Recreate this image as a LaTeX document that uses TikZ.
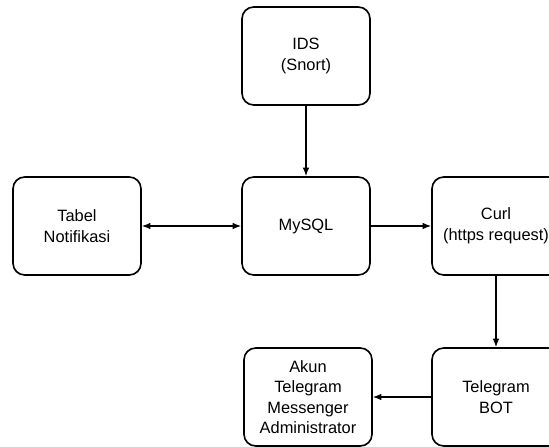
\documentclass[tikz,border=0pt]{standalone}
\usepackage{fontspec}
\setmainfont{Liberation Sans}
\usetikzlibrary{arrows.meta}
\tikzset{
  kotak/.style={draw,line width=1.4pt,rounded corners=10pt,fill=white,
    minimum width=3.84cm,minimum height=2.94cm,align=center,
    font=\fontsize{14}{17.5}\selectfont},
  >={Latex[length=2.6mm,width=2mm]}
}
\begin{document}
\begin{tikzpicture}[x=0.03cm,y=-0.03cm]
            \clip (0,0) rectangle (549,447);
            \fill[white] (0,0) rectangle (549,447);
            \node[kotak] (ids) at (306,56) {IDS\\(Snort)};
            \node[kotak] (tabel) at (77,226) {Tabel\\Notifikasi};
            \node[kotak] (mysql) at (306,226) {MySQL};
            \node[kotak] (curl) at (496,226) {Curl\\(https request)};
            \node[kotak] (bot) at (496,397) {Telegram\\BOT};
            \node[kotak] (akun) at (308,397) {Akun\\Telegram\\Messenger\\Administrator};
            \draw[->,line width=1pt] (ids) -- (mysql);
            \draw[<->,line width=1pt] (tabel) -- (mysql);
            \draw[->,line width=1pt] (mysql) -- (curl);
            \draw[->,line width=1pt] (curl) -- (bot);
            \draw[->,line width=1pt] (bot) -- (akun);
        \end{tikzpicture}
\end{document}
